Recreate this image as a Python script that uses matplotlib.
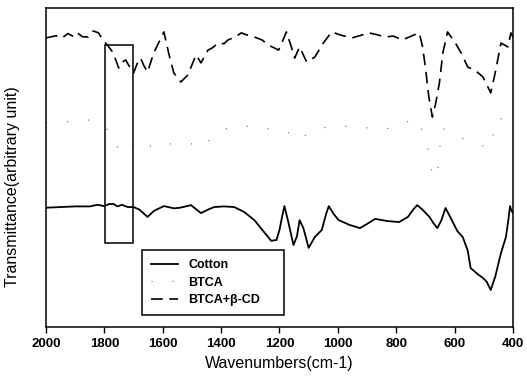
import matplotlib
matplotlib.use('Agg')
import matplotlib.pyplot as plt
from matplotlib.patches import Rectangle

plt.rcParams['font.family'] = ['Liberation Sans', 'DejaVu Sans']

# Cotton (solid)
cotton_wn = [2000, 1950, 1900, 1850, 1824, 1800, 1785, 1769, 1755, 1740, 1720, 1700, 1680,
             1652, 1630, 1596, 1562, 1540, 1503, 1469, 1445, 1424, 1390, 1355, 1320, 1286,
             1255, 1228, 1210, 1200, 1190, 1183, 1170, 1152, 1140, 1131, 1118, 1100, 1079,
             1055, 1040, 1031, 1015, 997, 960, 924, 900, 872, 830, 790, 760, 740, 728, 710,
             686, 672, 659, 645, 631, 615, 590, 572, 555, 545, 520, 503, 490, 476, 460, 441,
             424, 415, 410, 405, 400]
cotton_t = [37.4, 37.6, 37.8, 37.8, 38.3, 37.9, 38.5, 38.6, 37.8, 38.3, 37.6, 37.6, 36.8,
            34.5, 36.4, 37.9, 37.2, 37.4, 38.2, 35.7, 36.8, 37.6, 37.8, 37.6, 36.0, 33.5,
            30.0, 27.0, 27.3, 30.4, 35.0, 37.9, 33.0, 25.7, 28.5, 33.5, 31.0, 24.8, 28.2,
            30.4, 35.5, 37.9, 35.5, 33.5, 32.0, 31.0, 32.3, 33.9, 33.2, 32.9, 34.5, 37.0,
            38.2, 36.8, 34.5, 32.5, 31.0, 33.5, 37.3, 34.5, 30.0, 28.2, 24.0, 18.5, 16.5,
            15.4, 14.2, 11.6, 16.0, 23.2, 28.2, 34.0, 37.9, 36.5, 35.7]

# BTCA (sparse dotted)
btca_wn = [2000, 1900, 1849, 1800, 1757, 1753, 1700, 1661, 1637, 1575, 1497, 1473, 1420,
           1377, 1300, 1230, 1171, 1147, 1050, 950, 846, 780, 736, 700, 676, 660, 644, 610,
           575, 521, 480, 452, 421, 400]
btca_t = [64.0, 64.5, 64.9, 63.0, 58.0, 54.5, 55.0, 54.5, 57.4, 57.4, 57.4, 56.1, 60.0,
          62.4, 63.0, 62.0, 61.1, 58.6, 62.5, 63.0, 61.8, 63.5, 65.5, 60.0, 48.0, 46.7,
          62.4, 61.0, 59.2, 57.4, 56.0, 65.5, 64.9, 64.0]

# BTCA+beta-CD (dashed)
cd_wn = [2000, 1986, 1965, 1945, 1925, 1905, 1893, 1875, 1855, 1838, 1820, 1805, 1790,
         1770, 1751, 1740, 1727, 1717, 1700, 1688, 1676, 1665, 1652, 1631, 1596, 1580,
         1562, 1538, 1514, 1486, 1469, 1445, 1430, 1410, 1390, 1376, 1350, 1331, 1310,
         1286, 1260, 1238, 1203, 1176, 1160, 1148, 1131, 1107, 1079, 1050, 1021, 990, 952,
         893, 860, 838, 810, 779, 740, 721, 710, 700, 688, 676, 665, 652, 640, 624, 597,
         575, 555, 530, 503, 490, 476, 460, 441, 417, 407, 400]
cd_t = [90.6, 90.9, 91.3, 90.6, 92.0, 91.0, 92.2, 91.0, 90.9, 92.8, 92.2, 90.0, 88.4,
        86.0, 81.2, 83.0, 83.7, 82.1, 79.6, 82.5, 84.3, 82.0, 79.9, 85.9, 92.5, 86.0,
        79.6, 76.8, 79.0, 85.3, 82.8, 86.8, 87.5, 89.0, 88.8, 90.0, 91.0, 92.2, 91.5,
        90.9, 90.0, 88.4, 86.8, 92.5, 88.0, 84.3, 87.8, 83.1, 84.6, 89.0, 92.5, 91.5,
        90.6, 92.2, 91.5, 90.9, 91.2, 90.0, 91.5, 92.2, 88.0, 81.5, 72.0, 65.8, 70.0,
        76.5, 86.0, 92.5, 89.0, 85.5, 81.5, 80.5, 78.4, 76.0, 73.4, 80.0, 89.0, 87.8,
        92.2, 90.9]

labels = ['Cotton', 'BTCA', 'BTCA+β-CD']
ticks = [2000, 1800, 1600, 1400, 1200, 1000, 800, 600, 400]

fig = plt.figure(figsize=(5.27, 3.79), dpi=100)
ax = fig.add_axes([0.0873, 0.1372, 0.886, 0.8417])

ax.plot(cotton_wn, cotton_t, color='black', lw=1.3, label=labels[0])
ax.plot(btca_wn, btca_t, color='#666666', lw=0.8, linestyle=(0, (1, 18)), label=labels[1])
ax.plot(cd_wn, cd_t, color='black', lw=1.2, linestyle=(0, (7, 4)), label=labels[2])

# box marking the carbonyl region
ax.add_patch(Rectangle((1798, 26.3), -96, 62.1, fill=False, edgecolor='black', lw=1.1))

ax.set_xlim(2000, 400)
ax.set_ylim(0, 100)
ax.set_xticks(ticks)
ax.set_xticklabels([str(t) for t in ticks], fontweight='bold', fontsize=9.5)
ax.set_yticks([])
ax.tick_params(axis='x', direction='out', length=4, width=1, pad=4)
for s in ax.spines.values():
    s.set_linewidth(1.1)

ax.set_xlabel('Wavenumbers(cm-1)', fontsize=11.5, labelpad=4)
ax.set_ylabel('Transmittance(arbitrary unit)', fontsize=11.5)
ax.yaxis.set_label_coords(-0.056, 0.44)

leg = ax.legend(loc='lower left', bbox_to_anchor=(0.206, 0.038, 0.304, 0.21),
                mode='expand', borderaxespad=0,
                prop={'weight': 'bold', 'size': 9}, fancybox=False, edgecolor='black',
                framealpha=1, handlelength=2.2, labelspacing=0.45, borderpad=0.7,
                handletextpad=0.8)
leg.get_frame().set_linewidth(1.1)

fig.savefig('out.png', dpi=100)
